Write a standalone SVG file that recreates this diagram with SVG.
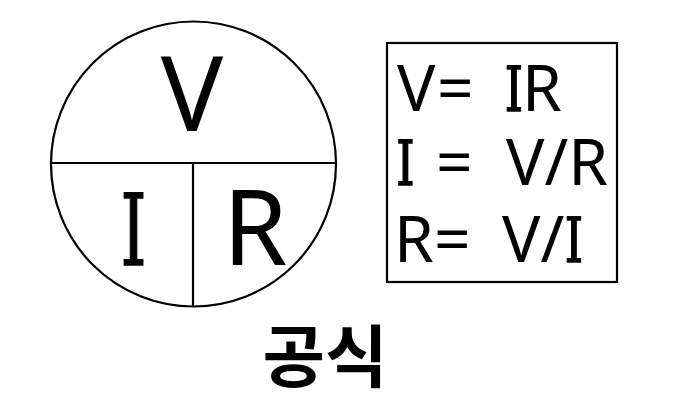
<svg xmlns="http://www.w3.org/2000/svg" width="675" height="420" viewBox="0 0 675 420">
<style>
.ln{fill:none;stroke:#000;stroke-width:2.2}
.s{font-family:"Noto Sans","DejaVu Sans",sans-serif;fill:#000}
.sf{font-family:"DejaVu Serif","Liberation Serif",serif;fill:#000;stroke:#000;stroke-width:1.6}
.k{font-family:"Noto Sans CJK KR","Noto Sans",sans-serif;font-weight:bold;fill:#000}
</style>
<rect width="675" height="420" fill="#fff"/>
<g id="triangle-circle">
<circle class="ln" cx="193.5" cy="164" r="142.5"/>
<line class="ln" x1="51" y1="163" x2="336" y2="163"/>
<line class="ln" x1="193" y1="163" x2="193" y2="306.5"/>
<text class="s" x="192" y="131" font-size="104" text-anchor="middle">V</text>
<text class="sf" font-size="100" text-anchor="middle" transform="translate(133.5,264.5) scale(0.66,1)">I</text>
<text class="s" x="255" y="265" font-size="104" text-anchor="middle">R</text>
</g>
<g id="formula-box">
<rect class="ln" x="387" y="43" width="230" height="239"/>
<text class="s" x="397" y="111" font-size="64">V</text>
<text class="s" x="437" y="111" font-size="64">=</text>
<text class="sf" font-size="62" text-anchor="middle" transform="translate(514,110.5) scale(0.75,1)">I</text>
<text class="s" x="522" y="111" font-size="64">R</text>
<text class="sf" font-size="62" text-anchor="middle" transform="translate(405.5,184.5) scale(0.75,1)">I</text>
<text class="s" x="436" y="185" font-size="64">=</text>
<text class="s" x="506" y="185" font-size="64">V/R</text>
<text class="s" x="394" y="262" font-size="64">R</text>
<text class="s" x="434" y="262" font-size="64">=</text>
<text class="s" x="502" y="262" font-size="64">V/</text>
<text class="sf" font-size="62" text-anchor="middle" transform="translate(574,261.5) scale(0.75,1)">I</text>
</g>
<g id="title">
<text class="k" x="325" y="382" font-size="68" text-anchor="middle">공식</text>
</g>
</svg>
